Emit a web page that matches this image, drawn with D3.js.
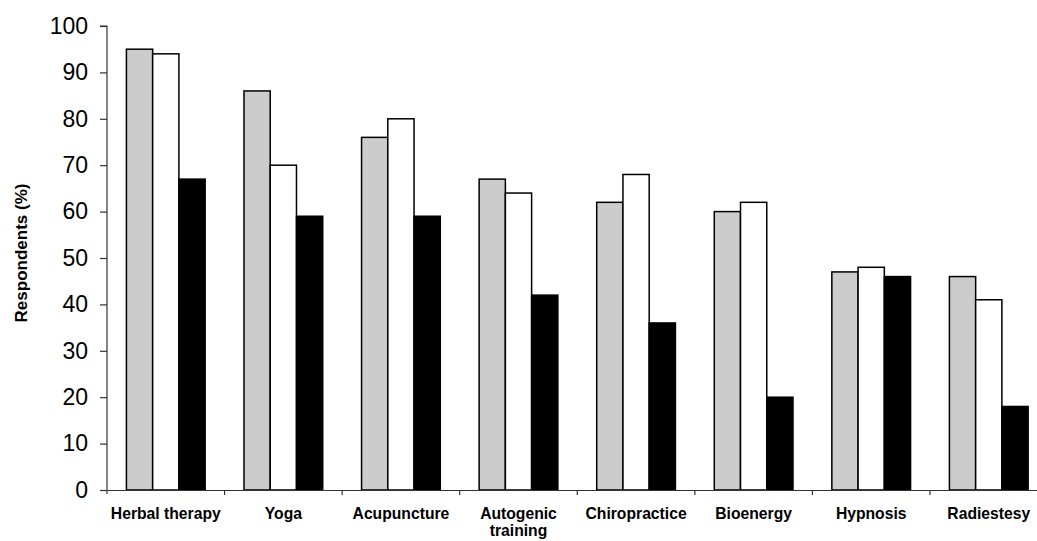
<!DOCTYPE html>
<html>
<head>
<meta charset="utf-8">
<script src="https://cdn.jsdelivr.net/npm/d3@7"></script>
<style>
  html, body { margin: 0; padding: 0; background: #fff; }
  svg { display: block; font-family: "Liberation Sans", Arial, sans-serif; }
</style>
</head>
<body>
<svg id="chart" width="1037" height="541"></svg>
<script>
const categories = ["Herbal therapy", "Yoga", "Acupuncture", "Autogenic training", "Chiropractice", "Bioenergy", "Hypnosis", "Radiestesy"];
const seriesNames = ["Series 1", "Series 2", "Series 3"];
const series1 = [95, 86, 76, 67, 62, 60, 47, 46];
const series2 = [94, 70, 80, 64, 68, 62, 48, 41];
const series3 = [67, 59, 59, 42, 36, 20, 46, 18];
const seriesColors = ["#cccccc", "#ffffff", "#000000"];
const yTicks = [0, 10, 20, 30, 40, 50, 60, 70, 80, 90, 100];

const seriesValues = [series1, series2, series3];
const data = categories.map((c, i) => ({
  category: c,
  values: seriesNames.map((s, j) => ({ key: s, value: seriesValues[j][i], color: seriesColors[j] }))
}));

const svg = d3.select("#chart");
const mLeft = 107, mBottom = 490, mTop = 26;
const band = 117.57;

const x0 = d3.scaleBand().domain(categories).range([mLeft, mLeft + band * categories.length]).paddingInner(0).paddingOuter(0);
const x1 = d3.scaleBand().domain(seriesNames).range([0, x0.bandwidth()]).paddingInner(0).paddingOuter(0.74);
const y = d3.scaleLinear().domain([0, 100]).range([mBottom, mTop]);

// bars
const g = svg.append("g");
g.selectAll("g.cat").data(data).join("g")
  .attr("class", "cat")
  .attr("transform", d => `translate(${x0(d.category)},0)`)
  .selectAll("rect").data(d => d.values).join("rect")
  .attr("x", d => x1(d.key))
  .attr("width", x1.bandwidth())
  .attr("y", d => y(d.value))
  .attr("height", d => y(0) - y(d.value))
  .attr("fill", d => d.color)
  .attr("stroke", "#000")
  .attr("stroke-width", 1.5);

// y axis
const yAxis = d3.axisLeft(y).tickValues(yTicks).tickSize(7).tickPadding(12).tickFormat(d3.format("d"));
const ya = svg.append("g").attr("transform", `translate(${mLeft},0)`).call(yAxis);
ya.select(".domain").attr("stroke", "#333").attr("stroke-width", 1.2).attr("d", `M-7,${mTop}H0V${mBottom + 4}`);
ya.selectAll(".tick line").attr("stroke", "#333").attr("stroke-width", 1.2);
ya.selectAll(".tick text").attr("font-size", 23).attr("fill", "#000").attr("font-family", "Liberation Sans, Arial, sans-serif");

// x axis
const xAxis = d3.axisBottom(x0).tickSize(0).tickFormat("");
const xa = svg.append("g").attr("transform", `translate(0,${mBottom})`).call(xAxis);
xa.select(".domain").attr("stroke", "#333").attr("stroke-width", 1.2);
// boundary ticks between categories
xa.selectAll("line.bt").data(categories.slice(1)).join("line")
  .attr("class", "bt")
  .attr("x1", d => x0(d)).attr("x2", d => x0(d))
  .attr("y1", 0).attr("y2", 5)
  .attr("stroke", "#333").attr("stroke-width", 1.2);

// category labels
const labelLines = { "Autogenic training": ["Autogenic", "training"] };
categories.forEach(c => {
  const lines = labelLines[c] || [c];
  const t = svg.append("text")
    .attr("x", x0(c) + x0.bandwidth() / 2)
    .attr("y", 519)
    .attr("text-anchor", "middle")
    .attr("font-size", 15.7)
    .attr("font-weight", "bold")
    .attr("fill", "#000");
  lines.forEach((l, i) => {
    t.append("tspan").attr("x", x0(c) + x0.bandwidth() / 2).attr("dy", i === 0 ? 0 : 17).text(l);
  });
});

// y title
svg.append("text")
  .attr("transform", `translate(27,253) rotate(-90)`)
  .attr("text-anchor", "middle")
  .attr("font-size", 17)
  .attr("font-weight", "bold")
  .attr("fill", "#000")
  .text("Respondents (%)");
</script>
</body>
</html>
